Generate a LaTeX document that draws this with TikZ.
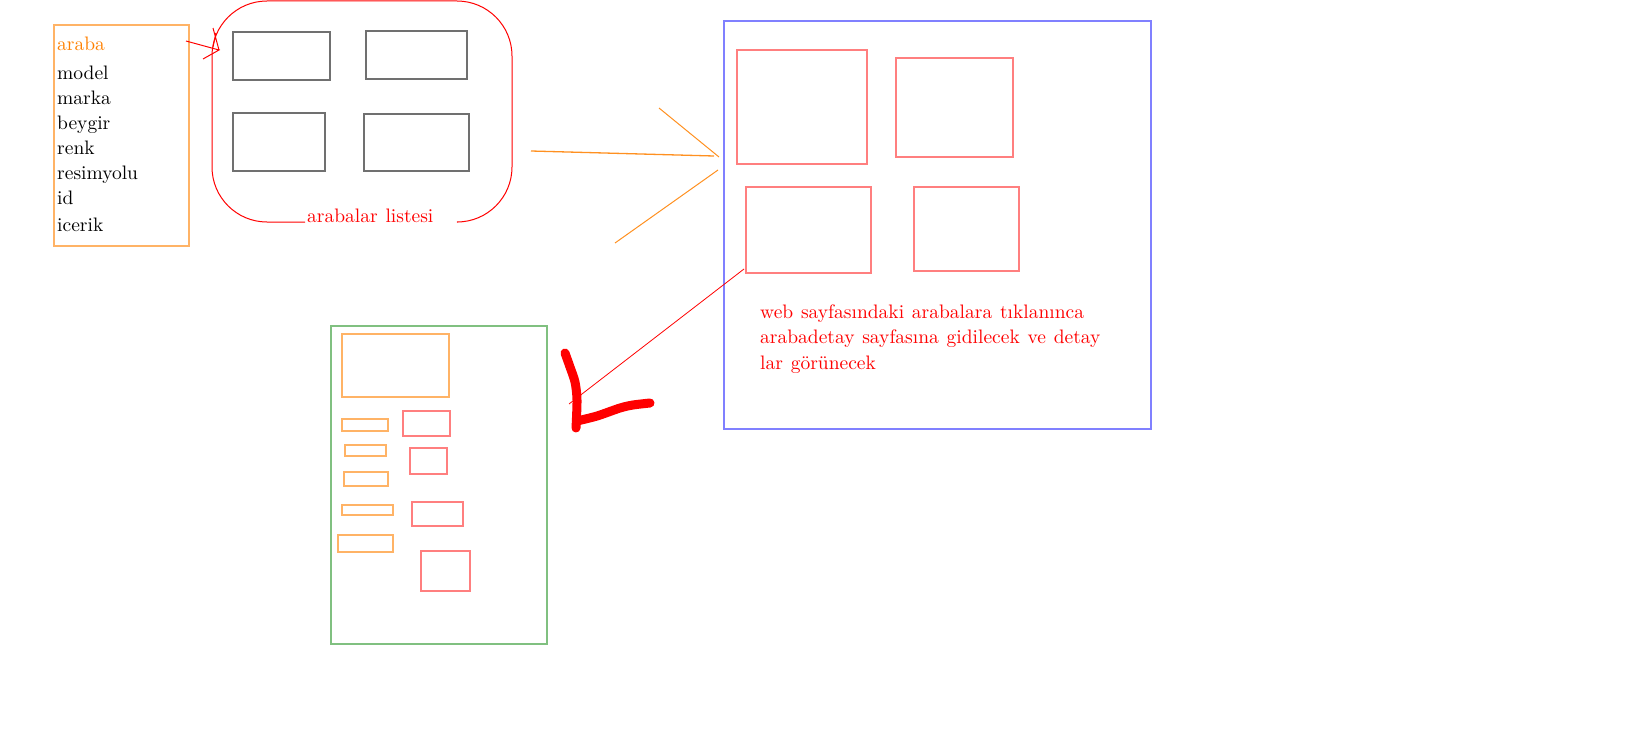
\documentclass[tikz,border=0pt]{standalone}
\usepackage{fontspec}
\setmainfont{lmroman10-regular.otf}[WordSpace=1.2]
\usetikzlibrary{positioning}
\usepackage{xcolor}

\definecolor{arabaorange}{HTML}{FF8000}
\definecolor{kutuorange}{HTML}{FFB366}
\definecolor{okorange}{HTML}{FF9020}
\definecolor{kutured}{HTML}{FF7F7F}
\definecolor{grikutu}{HTML}{707070}
\definecolor{webblue}{HTML}{8080FF}
\definecolor{detaygreen}{HTML}{80C080}

\begin{document}
\begin{tikzpicture}[x=1pt, y=-1pt,
    every node/.style={font=\fontsize{19.5}{25}\selectfont, inner sep=0pt, anchor=base west},
    graybox/.style={draw=grikutu, line width=1.5pt},
    redbox/.style={draw=kutured, line width=1.5pt},
    orangebox/.style={draw=kutuorange, line width=1.5pt}]

            \useasboundingbox (0,0) rectangle (1644,752);

            % araba class box
            \draw[orangebox] (54,25) rectangle (189,246);
            \node[text=arabaorange] (araba) at (57,51) {araba};
            \foreach \f/\y [count=\i] in {model/79, marka/104, beygir/129, renk/154,
                resimyolu/179, id/204, icerik/231} {
                \node (f\i) at (57,\y) {\f};
            }

            % list of cars, bottom border broken by its label
            \draw[red, line width=1pt, rounded corners=55pt]
                (458,222) -- (512,222) -- (512,1) -- (212,1) -- (212,222) -- (305,222);
            \node[text=red] (liste) at (307,222) {arabalar listesi};
            \foreach \xa/\ya/\xb/\yb in {233/32/330/80, 366/31/467/79,
                233/113/325/171, 364/114/469/171} {
                \draw[graybox] (\xa,\ya) rectangle (\xb,\yb);
            }

            % red arrow araba -> list
            \coordinate (kuyruk) at (186,41);
            \coordinate (uc) at (219,50);
            \draw[red, line width=1pt] (kuyruk) -- (uc) -- (203,59)
                (uc) -- (213,28) (216,33) -- (213,47);

            % web page box
            \draw[webblue, line width=2pt] (724,21) rectangle (1151,429);
            \foreach \xa/\ya/\xb/\yb in {737/50/867/164, 896/58/1013/157,
                746/187/871/273, 914/187/1019/271} {
                \draw[redbox] (\xa,\ya) rectangle (\xb,\yb);
            }
            \node[text=red] (not1) at (760,318) {web sayfasındaki arabalara tıklanınca};
            \node[text=red] (not2) at (760,343) {arabadetay sayfasına gidilecek ve detay};
            \node[text=red] (not3) at (760,369) {lar görünecek};

            % orange arrow list -> web page
            \coordinate (okbas) at (531,151);
            \coordinate (okuc) at (714,156);
            \draw[okorange, line width=1.3pt] (okbas) -- (okuc);
            \draw[okorange, line width=1pt] (659,108) -- (719,157)
                (718,170) -- (615,243);

            % detail page box
            \draw[detaygreen, line width=2pt] (331,326) rectangle (547,644);
            \foreach \xa/\ya/\xb/\yb in {342/334/449/397, 342/419/388/431,
                345/445/386/456, 344/472/388/486, 342/505/393/515, 338/535/393/552} {
                \draw[orangebox] (\xa,\ya) rectangle (\xb,\yb);
            }
            \foreach \xa/\ya/\xb/\yb in {403/411/450/436, 410/448/447/474,
                412/502/463/526, 421/551/470/591} {
                \draw[redbox] (\xa,\ya) rectangle (\xb,\yb);
            }

            % click line and hand-drawn arrow head
            \coordinate (tik) at (744,269);
            \coordinate (varis) at (569,404);
            \draw[red, line width=0.8pt] (tik) -- (varis);
            \draw[red, line width=9pt, line cap=round, line join=round]
                plot[smooth] coordinates {(565,353) (570,367) (575,382) (577,400) (576,428)};
            \draw[red, line width=9pt, line cap=round, line join=round]
                plot[smooth] coordinates {(577,421) (597,416) (620,408) (633,405) (650,403)};

        \end{tikzpicture}
\end{document}
